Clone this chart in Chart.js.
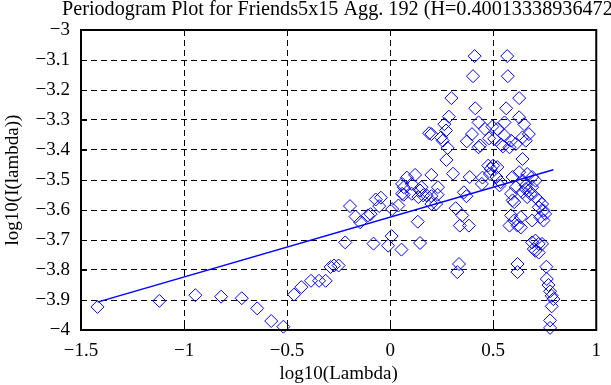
<!DOCTYPE html>
<html>
<head>
<meta charset="utf-8">
<script src="https://cdn.jsdelivr.net/npm/chart.js@4.4.0/dist/chart.umd.min.js"></script>
<style>
  html, body { margin: 0; padding: 0; background: #fff; }
</style>
</head>
<body>
<canvas id="periodogramChart" width="611" height="385"></canvas>
<script>
// periodogram points (log10 lambda, log10 I(lambda))
const logLambda = [
    -1.42, -1.12, -0.945, -0.82, -0.72, -0.645, -0.577, -0.518, -0.466, -0.431,
    -0.384, -0.345, -0.313, -0.289, -0.272, -0.25, -0.218, -0.195, -0.168, -0.145,
    -0.108, -0.095, -0.081, -0.07, -0.045, -0.053, -0.01, 0.007, 0.01, 0.04,
    0.055, 0.066, 0.058, 0.105, 0.134, 0.145, 0.16, 0.176, 0.2, 0.23,
    0.223, 0.058, 0.066, 0.081, 0.121, 0.105, 0.152, 0.2, 0.232, 0.137,
    0.145, 0.189, 0.2, 0.247, 0.255, 0.263, 0.271, 0.285, 0.297, 0.279,
    0.273, 0.305, 0.2, 0.358, 0.37, 0.318, 0.35, 0.338, 0.382, 0.334,
    0.326, 0.372, 0.397, 0.41, 0.402, 0.413, 0.429, 0.429, 0.437, 0.46,
    0.496, 0.52, 0.48, 0.505, 0.547, 0.539, 0.579, 0.555, 0.476, 0.5,
    0.52, 0.488, 0.386, 0.448, 0.445, 0.516, 0.536, 0.594, 0.484, 0.531,
    0.568, 0.571, 0.626, 0.563, 0.555, 0.626, 0.65, 0.673, 0.642, 0.658,
    0.587, 0.61, 0.642, 0.626, 0.665, 0.689, 0.705, 0.587, 0.594, 0.61,
    0.602, 0.642, 0.658, 0.665, 0.681, 0.689, 0.705, 0.721, 0.737, 0.721,
    0.744, 0.728, 0.744, 0.752, 0.689, 0.634, 0.634, 0.587, 0.602, 0.579,
    0.618, 0.689, 0.705, 0.721, 0.697, 0.737, 0.705, 0.721, 0.618, 0.618,
    0.758, 0.76, 0.768, 0.776, 0.784, 0.792, 0.784, 0.776, 0.776, 0.658,
    0.673, 0.642
];
const logPower = [
    -3.923, -3.903, -3.884, -3.889, -3.894, -3.928, -3.97, -3.989, -3.882, -3.857,
    -3.836, -3.836, -3.836, -3.79, -3.785, -3.785, -3.708, -3.587, -3.622, -3.641,
    -3.618, -3.614, -3.712, -3.565, -3.559, -3.587, -3.719, -3.687, -3.597, -3.585,
    -3.732, -3.549, -3.546, -3.546, -3.639, -3.71, -3.551, -3.551, -3.554, -3.549,
    -3.58, -3.513, -3.524, -3.492, -3.483, -3.513, -3.524, -3.483, -3.524, -3.557,
    -3.535, -3.344, -3.347, -3.358, -3.369, -3.314, -3.335, -3.289, -3.227, -3.393,
    -3.433, -3.479, -3.58, -3.541, -3.554, -3.594, -3.618, -3.652, -3.652, -3.78,
    -3.807, -3.371, -3.347, -3.087, -3.154, -3.261, -3.308, -3.391, -3.385, -3.33,
    -3.322, -3.33, -3.361, -3.363, -3.388, -3.382, -3.391, -3.352, -3.452, -3.452,
    -3.457, -3.463, -3.49, -3.492, -3.513, -3.49, -3.507, -3.49, -3.48, -3.518,
    -3.087, -3.154, -3.227, -3.261, -3.308, -3.291, -3.314, -3.347, -3.358, -3.369,
    -3.369, -3.38, -3.43, -3.474, -3.48, -3.49, -3.502, -3.546, -3.568, -3.524,
    -3.574, -3.541, -3.53, -3.557, -3.546, -3.524, -3.557, -3.568, -3.58, -3.591,
    -3.602, -3.624, -3.635, -3.613, -3.635, -3.658, -3.624, -3.618, -3.635, -3.652,
    -3.652, -3.708, -3.702, -3.713, -3.73, -3.713, -3.736, -3.742, -3.78, -3.807,
    -3.789, -3.83, -3.85, -3.871, -3.886, -3.897, -3.921, -3.968, -3.993, -3.518,
    -3.535, -3.502
];

// least squares fit line end points
const fitLambda = [-1.42, 0.792];
const fitPower = [-3.907, -3.466];

const xTicks = [-1.5, -1, -0.5, 0, 0.5, 1];
const yTicks = [-3, -3.1, -3.2, -3.3, -3.4, -3.5, -3.6, -3.7, -3.8, -3.9, -4];

const chartTitle = 'Periodogram Plot for Friends5x15 Agg. 192 (H=0.400133389364723)';
const xTitle = 'log10(Lambda)';
const yTitle = 'log10(I(lambda))';

const FONT = '"Liberation Serif", "Times New Roman", serif';
const BLUE = '#0000ff';

function fmt(v) {
    const s = String(Math.round(v * 10) / 10);
    return s.replace('-', '\u2212');
}

// frame, inward tick marks and the title (drawn like the original plot)
const framePlugin = {
    id: 'frame',
    afterDatasetsDraw(chart) {
        const { ctx, chartArea: a, scales } = chart;
        ctx.save();
        ctx.strokeStyle = '#000';
        ctx.lineWidth = 1;
        ctx.beginPath();
        xTicks.forEach(v => {
            const x = Math.round(scales.x.getPixelForValue(v)) + 0.5;
            ctx.moveTo(x, a.top); ctx.lineTo(x, a.top + 6);
            ctx.moveTo(x, a.bottom); ctx.lineTo(x, a.bottom - 6);
        });
        yTicks.forEach(v => {
            const y = Math.round(scales.y.getPixelForValue(v)) + 0.5;
            ctx.moveTo(a.left, y); ctx.lineTo(a.left + 6, y);
            ctx.moveTo(a.right, y); ctx.lineTo(a.right - 6, y);
        });
        ctx.stroke();
        ctx.lineWidth = 2;
        ctx.strokeRect(a.left, a.top, a.right - a.left, a.bottom - a.top);

        ctx.fillStyle = '#000';
        ctx.font = '20.2px ' + FONT;
        ctx.textAlign = 'left';
        ctx.textBaseline = 'alphabetic';
        ctx.fillText(chartTitle, 62, 15);
        ctx.restore();
    }
};

const ctx = document.getElementById('periodogramChart');

new Chart(ctx, {
    type: 'scatter',
    data: {
        datasets: [{
            label: 'periodogram',
            data: logLambda.map((x, i) => ({ x: x, y: logPower[i] })),
            pointStyle: 'rectRot',
            pointRadius: 6.5,
            pointBorderWidth: 1,
            borderColor: BLUE,
            backgroundColor: 'rgba(0,0,0,0)',
            clip: false
        }, {
            label: 'fit',
            type: 'line',
            data: fitLambda.map((x, i) => ({ x: x, y: fitPower[i] })),
            borderColor: BLUE,
            borderWidth: 1.5,
            pointRadius: 0,
            fill: false
        }]
    },
    options: {
        responsive: false,
        animation: false,
        devicePixelRatio: 1,
        layout: {
            padding: { top: 30, right: 2, left: 0, bottom: 0 }
        },
        plugins: {
            legend: { display: false },
            tooltip: { enabled: false }
        },
        scales: {
            x: {
                type: 'linear',
                min: -1.5,
                max: 1,
                afterBuildTicks: axis => { axis.ticks = xTicks.map(v => ({ value: v })); },
                afterFit: axis => { axis.height = 55; },
                grid: { color: '#000', lineWidth: 1, drawTicks: false },
                border: { display: false, dash: [6, 4] },
                ticks: {
                    color: '#000',
                    font: { family: FONT, size: 19 },
                    padding: 10,
                    maxRotation: 0,
                    callback: v => fmt(v)
                },
                title: {
                    display: true,
                    text: xTitle,
                    color: '#000',
                    font: { family: FONT, size: 19, lineHeight: 1.2 },
                    padding: 0
                }
            },
            y: {
                type: 'linear',
                min: -4,
                max: -3,
                afterBuildTicks: axis => { axis.ticks = yTicks.map(v => ({ value: v })); },
                afterFit: axis => { axis.width = 81; },
                grid: { color: '#000', lineWidth: 1, drawTicks: false },
                border: { display: false, dash: [6, 4] },
                ticks: {
                    color: '#000',
                    font: { family: FONT, size: 19 },
                    padding: 11,
                    callback: v => fmt(v)
                },
                title: {
                    display: true,
                    text: yTitle,
                    color: '#000',
                    font: { family: FONT, size: 19, lineHeight: 1.2 },
                    padding: { top: 2, bottom: 0 }
                }
            }
        }
    },
    plugins: [framePlugin]
});
</script>
</body>
</html>
